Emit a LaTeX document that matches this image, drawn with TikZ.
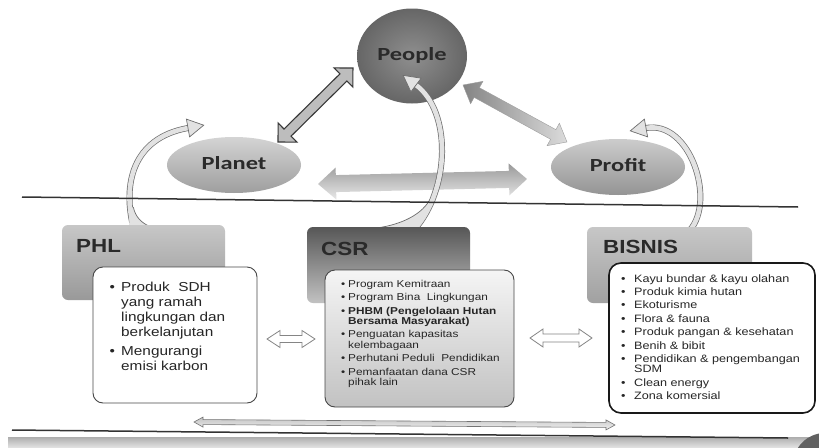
\documentclass[tikz,border=0pt]{standalone}
\usepackage{fontspec}
\usetikzlibrary{shapes.geometric,calc}
\newfontfamily\arialx{Liberation Sans}[FakeStretch=1.18]
\newfontfamily\calx{Carlito}[FakeStretch=1.32]

\definecolor{rulegray}{HTML}{333333}
\definecolor{inkgray}{HTML}{2A2A2A}
\definecolor{bandfill}{HTML}{E2E2E2}
\definecolor{bandline}{HTML}{6E6E6E}

% double-headed block arrow from #2 to #3
% #4 shaft half-width, #5 head half-width, #6 head length (pt)
\newcommand\dblarrow[6]{%
  \path let \p1=(#2), \p2=(#3) in \pgfextra{%
    \pgfmathsetmacro\rsAng{atan2((\y2)-(\y1),(\x2)-(\x1))}\xdef\rsA{\rsAng}%
    \pgfmathsetmacro\rsLen{veclen((\x2)-(\x1),(\y2)-(\y1))}\xdef\rsL{\rsLen}%
    \pgfmathsetmacro\rsBk{\rsLen-#6}\xdef\rsB{\rsBk}%
    \pgfmathsetmacro\rsPx{\x1}\xdef\rsX{\rsPx}%
    \pgfmathsetmacro\rsPy{\y1}\xdef\rsY{\rsPy}};
  \begin{scope}[shift={(\rsX pt,\rsY pt)}, rotate=\rsA]
    \path[#1] (0pt,0pt) -- (#6pt,#5pt) -- (#6pt,#4pt) -- (\rsB pt,#4pt)
      -- (\rsB pt,#5pt) -- (\rsL pt,0pt) -- (\rsB pt,-#5pt) -- (\rsB pt,-#4pt)
      -- (#6pt,-#4pt) -- (#6pt,-#5pt) -- cycle;
  \end{scope}}

% triangular head placed at #3, pointing along #2 -> #3
% #4 half-width, #5 length (pt)
\newcommand\tiphead[5]{%
  \path let \p1=(#2), \p2=(#3) in \pgfextra{%
    \pgfmathsetmacro\rsAng{atan2((\y2)-(\y1),(\x2)-(\x1))}\xdef\rsA{\rsAng}%
    \pgfmathsetmacro\rsPx{\x2}\xdef\rsX{\rsPx}%
    \pgfmathsetmacro\rsPy{\y2}\xdef\rsY{\rsPy}};
  \begin{scope}[shift={(\rsX pt,\rsY pt)}, rotate=\rsA]
    \path[#1] (0pt,#4pt) -- (#5pt,0pt) -- (0pt,-#4pt) -- cycle;
  \end{scope}}

\begin{document}
\begin{tikzpicture}[x=1pt, y=-1pt,
  orb/.style={ellipse, inner sep=0pt, text height=13pt, text depth=4pt,
    font=\calx\bfseries\fontsize{18.5}{20}\selectfont, text=inkgray},
  headbox/.style={rectangle, rounded corners=6pt, inner sep=0pt},
  infobox/.style={rectangle, rounded corners=10pt, inner sep=0pt},
  headlabel/.style={anchor=base west, inner sep=0pt, text=inkgray,
    font=\arialx\bfseries\fontsize{19}{22}\selectfont},
  bodytext/.style={anchor=base west, inner sep=0pt, text=black!85},
  linkdark/.style={fill=black!26, draw=black!78, line width=1.1pt, line join=miter},
  linkfade/.style={left color=black!48, right color=black!14, draw=black!38, line width=.4pt},
  linkwide/.style={top color=black!40, bottom color=black!9},
  linkhollow/.style={fill=white, draw=black!48, line width=.8pt},
  linkthin/.style={top color=black!24, bottom color=black!5, draw=black!55, line width=.6pt},
  curveband/.style={draw=bandline, line width=.7pt, double=bandfill, double distance=4.6pt},
  curvehead/.style={fill=bandfill, draw=bandline, line width=.7pt, line join=miter},
  rulerline/.style={draw=rulegray, line width=1.5pt}]

\useasboundingbox (0,0) rectangle (819,447);
\fill[white] (0,0) rectangle (819,447);

% footer band and corner disc
\shade[top color=black!32, bottom color=black!12] (8,437) rectangle (819,447);
\fill[black!62] (825,465) circle (32pt);

% the three pillars
\node[orb, minimum width=110pt, minimum height=95pt, shade,
      inner color=black!44, outer color=black!60] (people) at (412,56) {People};
\node[orb, minimum width=134pt, minimum height=56pt, shade,
      top color=black!17, bottom color=black!38] (planet) at (234,165) {Planet};
\node[orb, minimum width=134pt, minimum height=56pt, shade,
      top color=black!20, bottom color=black!42] (profit) at (618,167) {Profit};

% block arrows between the pillars
\coordinate (a1s) at (278,142);  \coordinate (a1e) at (353,68);
\coordinate (a2s) at (463,85);   \coordinate (a2e) at (567,142);
\coordinate (a3s) at (318,184);  \coordinate (a3e) at (527,179);
\dblarrow{linkdark}{a1s}{a1e}{5}{13.4}{13.4}
\dblarrow{linkfade}{a2s}{a2e}{5.5}{12.8}{15.7}
\dblarrow{linkwide}{a3s}{a3e}{8.5}{16}{18}

% curved arrows rising from the three boxes
\coordinate (c1s) at (134,230); \coordinate (c1a) at (122,185);
\coordinate (c1b) at (132,138); \coordinate (c1e) at (188,128);
\draw[curveband] (c1s) .. controls (c1a) and (c1b) .. (c1e);
\fill[bandfill] (130,209) -- (133.3,207) .. controls (135.5,217) and (141,223) .. (152,227.5)
  -- (129,227.5) -- cycle;
\draw[bandline, line width=.7pt] (133.3,207) .. controls (135.5,217) and (141,223) .. (152,227.5);
\tiphead{curvehead}{c1b}{c1e}{9}{16}

\coordinate (c2s) at (414,230); \coordinate (c2a) at (450,190);
\coordinate (c2b) at (452,112); \coordinate (c2e) at (416,85);
\draw[curveband] (c2s) .. controls (c2a) and (c2b) .. (c2e);
\fill[bandfill] (431.5,202.3) -- (429,201) .. controls (420,216) and (398,226) .. (372,228.5)
  -- (416,228.5) -- cycle;
\draw[bandline, line width=.7pt] (429,201) .. controls (420,216) and (398,226) .. (372,228.5);
\tiphead{curvehead}{c2b}{c2e}{8.5}{16}

\coordinate (c3s) at (690,230); \coordinate (c3a) at (716,200);
\coordinate (c3b) at (690,120); \coordinate (c3e) at (646,128);
\draw[curveband] (c3s) .. controls (c3a) and (c3b) .. (c3e);
\tiphead{curvehead}{c3b}{c3e}{9}{16}

% upper divider
\draw[rulerline] (22,197) -- (798,207);

% title tabs
\node[headbox, minimum width=163pt, minimum height=75pt,
      top color=black!22, bottom color=black!40] (phlhead) at (143.5,262.5) {};
\node[headbox, minimum width=163pt, minimum height=76pt,
      top color=black!66, bottom color=black!24] (csrhead) at (388.5,265) {};
\node[headbox, minimum width=165pt, minimum height=76pt,
      top color=black!22, bottom color=black!37] (bisnishead) at (669.5,265) {};
\node[headlabel] (phllabel) at (76,252) {PHL};
\node[headlabel] (csrlabel) at (321,255) {CSR};
\node[headlabel] (bisnislabel) at (603,253) {BISNIS};

% content cards
\node[infobox, minimum width=164pt, minimum height=136pt, fill=white,
      draw=black!72, line width=.9pt] (phlbox) at (175,335) {};
\node[infobox, minimum width=189pt, minimum height=137pt, top color=black!4,
      bottom color=black!24, draw=black!72, line width=.9pt] (csrbox) at (419.5,338.5) {};
\node[infobox, rounded corners=12pt, minimum width=206pt, minimum height=150pt,
      fill=white, draw=black!90, line width=1.6pt] (bisnisbox) at (712,338) {};

\node[bodytext, font=\arialx\fontsize{13}{15}\selectfont] (phltext) at (109.5,291) {%
  \parbox[t]{150pt}{\raggedright\lineskiplimit=-20pt
  \makebox[11.5pt][l]{\textbullet}Produk\ \ SDH\\
  \hspace*{11.5pt}yang ramah\\
  \hspace*{11.5pt}lingkungan dan\\
  \hspace*{11.5pt}berkelanjutan\\[4pt]
  \makebox[11.5pt][l]{\textbullet}Mengurangi\\
  \hspace*{11.5pt}emisi karbon}};

\node[bodytext, font=\arialx\fontsize{10}{10.3}\selectfont] (csrtext) at (341,287) {%
  \parbox[t]{180pt}{\raggedright\lineskiplimit=-20pt
  \makebox[7pt][l]{\textbullet}Program Kemitraan\\[3.2pt]
  \makebox[7pt][l]{\textbullet}Program Bina\ \ Lingkungan\\[3.2pt]
  \makebox[7pt][l]{\textbullet}\textbf{PHBM (Pengelolaan Hutan}\\
  \hspace*{7pt}\textbf{Bersama Masyarakat)}\\[3.2pt]
  \makebox[7pt][l]{\textbullet}Penguatan kapasitas\\
  \hspace*{7pt}kelembagaan\\[3.2pt]
  \makebox[7pt][l]{\textbullet}Perhutani Peduli\ \ Pendidikan\\[3.2pt]
  \makebox[7pt][l]{\textbullet}Pemanfaatan dana CSR\\
  \hspace*{7pt}pihak lain}};

\node[bodytext, font=\arialx\fontsize{10.7}{10.2}\selectfont] (bisnistext) at (621,282) {%
  \parbox[t]{190pt}{\raggedright\lineskiplimit=-20pt
  \makebox[13pt][l]{\textbullet}Kayu bundar \& kayu olahan\\[3.2pt]
  \makebox[13pt][l]{\textbullet}Produk kimia hutan\\[3.2pt]
  \makebox[13pt][l]{\textbullet}Ekoturisme\\[3.2pt]
  \makebox[13pt][l]{\textbullet}Flora \& fauna\\[3.2pt]
  \makebox[13pt][l]{\textbullet}Produk pangan \& kesehatan\\[3.2pt]
  \makebox[13pt][l]{\textbullet}Benih \& bibit\\[3.2pt]
  \makebox[13pt][l]{\textbullet}Pendidikan \& pengembangan\\
  \hspace*{13pt}SDM\\[3.2pt]
  \makebox[13pt][l]{\textbullet}Clean energy\\[3.2pt]
  \makebox[13pt][l]{\textbullet}Zona komersial}};

% links between the cards
\coordinate (a4s) at (267,339); \coordinate (a4e) at (315,339);
\coordinate (a5s) at (530,338); \coordinate (a5e) at (592,338);
\coordinate (a6s) at (194,422); \coordinate (a6e) at (615,425);
\dblarrow{linkhollow}{a4s}{a4e}{3.5}{8.5}{13}
\dblarrow{linkhollow}{a5s}{a5e}{4}{9}{13}
\dblarrow{linkthin}{a6s}{a6e}{2.5}{5}{9}

% lower divider
\draw[rulerline] (12,430) -- (788,438);
\end{tikzpicture}
\end{document}
